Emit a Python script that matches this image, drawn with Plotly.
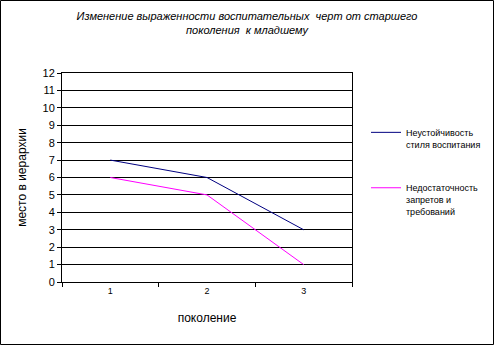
import plotly.graph_objects as go

categories = ["1", "2", "3"]
series1_name = "Неустойчивость<br>стиля воспитания"
series1 = [7, 6, 3]
series2_name = "Недостаточность<br>запретов и<br>требований"
series2 = [6, 5, 1]
y_ticks = list(range(0, 13))

W, H = 494, 345
L, R, T, B = 62, 142, 73, 63
pw, ph = W - L - R, H - T - B

font = "Liberation Sans, Arial, sans-serif"

fig = go.Figure()
fig.add_trace(go.Scatter(x=categories, y=series1, mode="lines", name=series1_name,
                         line=dict(color="#000080", width=1), legendgroup="a"))
fig.add_trace(go.Scatter(x=categories, y=series2, mode="lines", name=series2_name,
                         line=dict(color="#FF00FF", width=1), legendgroup="b"))

def px_x(p):
    return (p - L) / pw

def px_y(p):
    return (H - B - p) / ph

fig.update_layout(
    width=W, height=H,
    margin=dict(l=L, r=R, t=T, b=B, autoexpand=False),
    paper_bgcolor="white", plot_bgcolor="white",
    font=dict(family=font, size=10, color="black"),
    title=dict(text="<i>Изменение выраженности воспитательных  черт от старшего<br>поколения  к младшему</i>",
               x=px_x(247), xref="paper", xanchor="center", y=1 - 20 / H, yanchor="top",
               font=dict(size=11, family=font)),
    xaxis=dict(type="category", tickson="boundaries", ticks="outside", ticklen=4,
               tickcolor="black", showline=True, linecolor="black", mirror=True,
               showgrid=False, range=[-0.5, 2.5], tickfont=dict(size=9),
               title=dict(text="поколение", font=dict(size=12), standoff=18)),
    yaxis=dict(range=[0, 12], tickvals=y_ticks, ticks="outside", ticklen=4,
               tickcolor="black", showline=True, linecolor="black", mirror=True,
               showgrid=True, gridcolor="black", gridwidth=1, zeroline=False,
               tickfont=dict(size=11),
               title=dict(text="место в иерархии", font=dict(size=12), standoff=13)),
    legend=dict(x=px_x(366), y=px_y(120), xanchor="left", yanchor="top",
                font=dict(size=9, family=font), tracegroupgap=29, valign="top",
                bgcolor="rgba(0,0,0,0)", itemwidth=30),
    showlegend=True,
    shapes=[dict(type="rect", xref="paper", yref="paper",
                 x0=px_x(0.5), x1=px_x(493.5), y0=px_y(344.5), y1=px_y(0.5),
                 line=dict(color="black", width=1), layer="above")],
)

fig.write_html("out.html")
